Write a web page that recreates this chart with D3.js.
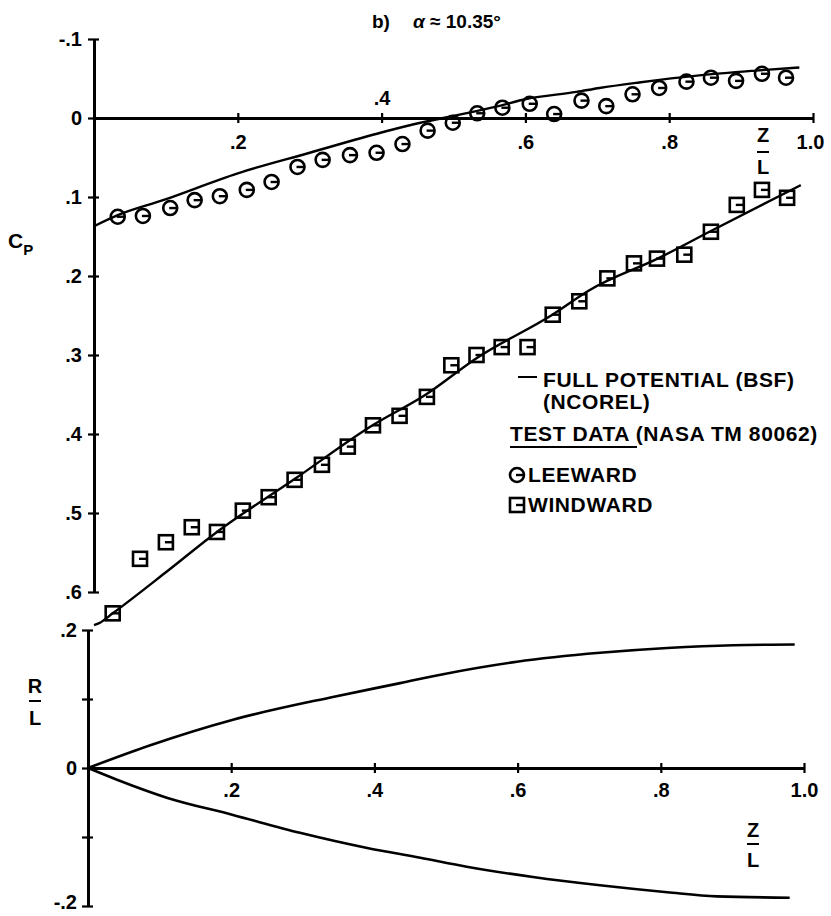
<!DOCTYPE html>
<html>
<head>
<meta charset="utf-8">
<script src="https://cdn.jsdelivr.net/npm/d3@7"></script>
<style>
  body { margin: 0; background: #fff; }
  svg text { font-family: "Liberation Sans", Arial, sans-serif; font-weight: bold; fill: #000; }
</style>
</head>
<body>
<svg id="chart" width="831" height="916"></svg>
<script>
// --- data ---
const zTicks = [0.2, 0.4, 0.6, 0.8, 1.0];
const cpTicks = [-0.1, 0, 0.1, 0.2, 0.3, 0.4, 0.5, 0.6];
const rTicks = [-0.2, -0.1, 0, 0.1, 0.2];
const rLabelTicks = [-0.2, 0, 0.2];

// test data, leeward (Z/L, Cp)
const leewardZ  = [0.033, 0.068, 0.106, 0.140, 0.175, 0.2125, 0.247, 0.283, 0.318, 0.356, 0.393, 0.429, 0.464, 0.499,
                   0.533, 0.568, 0.606, 0.640, 0.678, 0.7125, 0.749, 0.786, 0.824, 0.858, 0.893, 0.929, 0.9625];
const leewardCp = [0.125, 0.124, 0.114, 0.104, 0.099, 0.091, 0.081, 0.062, 0.053, 0.047, 0.044, 0.033, 0.016, 0.006,
                   -0.006, -0.013, -0.018, -0.005, -0.022, -0.015, -0.030, -0.038, -0.046, -0.051, -0.047, -0.056, -0.051];

// test data, windward
const windwardZ  = [0.026, 0.064, 0.100, 0.136, 0.171, 0.207, 0.243, 0.279, 0.317, 0.353, 0.388, 0.425, 0.463, 0.497,
                    0.532, 0.567, 0.603, 0.638, 0.675, 0.714, 0.751, 0.783, 0.821, 0.858, 0.894, 0.929, 0.964];
const windwardCp = [0.627, 0.558, 0.537, 0.518, 0.524, 0.497, 0.480, 0.458, 0.439, 0.416, 0.389, 0.377, 0.353, 0.313,
                    0.300, 0.290, 0.290, 0.249, 0.232, 0.203, 0.184, 0.178, 0.173, 0.144, 0.110, 0.091, 0.101];

// full potential curves
const leeLineZ  = [0, 0.033, 0.096, 0.2, 0.3, 0.401, 0.454, 0.486, 0.5625, 0.601, 0.671, 0.703, 0.758, 0.842, 0.92, 0.981];
const leeLineCp = [0.137, 0.123, 0.104, 0.070, 0.044, 0.018, 0.006, 0.0, -0.015, -0.024, -0.033, -0.038, -0.045, -0.054, -0.060, -0.064];
const windLineZ  = [0, 0.008, 0.026, 0.1, 0.171, 0.279, 0.3875, 0.46, 0.532, 0.6375, 0.689, 0.786, 0.856, 0.983];
const windLineCp = [0.642, 0.639, 0.627, 0.575, 0.524, 0.457, 0.389, 0.351, 0.304, 0.249, 0.218, 0.177, 0.144, 0.085];

// body contour R/L
const upperZ = [0, 0.087, 0.2025, 0.342, 0.436, 0.496, 0.599, 0.715, 0.809, 0.901, 0.987];
const upperR = [0, 0.033, 0.070, 0.103, 0.123, 0.136, 0.154, 0.167, 0.174, 0.178, 0.179];
const lowerZ = [0, 0.0405, 0.110, 0.2025, 0.296, 0.390, 0.464, 0.529, 0.6215, 0.715, 0.809, 0.878, 0.980];
const lowerR = [0, -0.017, -0.043, -0.068, -0.094, -0.116, -0.130, -0.143, -0.158, -0.170, -0.180, -0.186, -0.188];

const zip = (a, b) => a.map((v, i) => [v, b[i]]);
const fmt = d => d === 1 ? "1.0" : d === 0 ? "0" : d.toFixed(1).replace("0.", ".");

const svg = d3.select("#chart");
svg.append("rect").attr("width", 831).attr("height", 916).attr("fill", "#fff");

// scales
const xTop = d3.scaleLinear().domain([0, 1]).range([94, 813]);
const yTop = d3.scaleLinear().domain([-0.1, 0.6]).range([39, 592]);
const xBot = d3.scaleLinear().domain([0, 1]).range([88, 804]);
const yBot = d3.scaleLinear().domain([-0.2, 0.2]).range([906, 630]);

function styleAxis(g) {
    g.selectAll("path.domain").attr("stroke", "#000").attr("stroke-width", 2.8);
    g.selectAll(".tick line").attr("stroke", "#000").attr("stroke-width", 2.2);
    g.selectAll("text").attr("font-size", 20).attr("font-family", null);
}

// top chart: Cp axis (cross ticks = left + right axis)
const cpLeft = svg.append("g").attr("transform", `translate(${xTop(0)},0)`)
    .call(d3.axisLeft(yTop).tickValues(cpTicks).tickFormat(fmt).tickSize(6).tickPadding(6).tickSizeOuter(0));
styleAxis(cpLeft);
const cpRight = svg.append("g").attr("transform", `translate(${xTop(0)},0)`)
    .call(d3.axisRight(yTop).tickValues(cpTicks).tickFormat("").tickSize(5).tickSizeOuter(0));
styleAxis(cpRight);

// top chart: Z/L axis along Cp = 0
const zDown = svg.append("g").attr("transform", `translate(0,${yTop(0)})`)
    .call(d3.axisBottom(xTop).tickValues(zTicks).tickFormat(fmt).tickSize(5).tickPadding(12).tickSizeOuter(0));
styleAxis(zDown);
zDown.selectAll(".tick text").filter(d => d === 0.4).attr("y", -13).attr("dy", 0);
zDown.selectAll(".tick text").filter(d => d === 1).attr("dx", -3);
const zUp = svg.append("g").attr("transform", `translate(0,${yTop(0)})`)
    .call(d3.axisTop(xTop).tickValues(zTicks).tickFormat("").tickSize(5).tickSizeOuter(0));
styleAxis(zUp);

// bottom chart: R/L axis
const rLeft = svg.append("g").attr("transform", `translate(${xBot(0)},0)`)
    .call(d3.axisLeft(yBot).tickValues(rTicks).tickFormat(d => rLabelTicks.includes(d) ? fmt(d) : "")
        .tickSize(6).tickPadding(5).tickSizeOuter(0));
styleAxis(rLeft);
rLeft.selectAll(".tick text").filter(d => d === -0.2).attr("dy", "0.1em");
const rRight = svg.append("g").attr("transform", `translate(${xBot(0)},0)`)
    .call(d3.axisRight(yBot).tickValues(rTicks).tickFormat("").tickSize(5).tickSizeOuter(0));
styleAxis(rRight);

const zbDown = svg.append("g").attr("transform", `translate(0,${yBot(0)})`)
    .call(d3.axisBottom(xBot).tickValues(zTicks).tickFormat(fmt).tickSize(5).tickPadding(10).tickSizeOuter(0));
styleAxis(zbDown);
const zbUp = svg.append("g").attr("transform", `translate(0,${yBot(0)})`)
    .call(d3.axisTop(xBot).tickValues(zTicks).tickFormat("").tickSize(5).tickSizeOuter(0));
styleAxis(zbUp);

// curves
const lineTop = d3.line().x(d => xTop(d[0])).y(d => yTop(d[1])).curve(d3.curveMonotoneX);
const lineBot = d3.line().x(d => xBot(d[0])).y(d => yBot(d[1])).curve(d3.curveMonotoneX);

[zip(leeLineZ, leeLineCp), zip(windLineZ, windLineCp)].forEach(pts => {
    svg.append("path").attr("d", lineTop(pts))
        .attr("fill", "none").attr("stroke", "#000").attr("stroke-width", 2.4);
});
[zip(upperZ, upperR), zip(lowerZ, lowerR)].forEach(pts => {
    svg.append("path").attr("d", lineBot(pts))
        .attr("fill", "none").attr("stroke", "#000").attr("stroke-width", 2.6);
});

// markers
function circleMark(g, x, y) {
    g.append("circle").attr("cx", x).attr("cy", y).attr("r", 7)
        .attr("fill", "none").attr("stroke", "#000").attr("stroke-width", 2.6);
    g.append("line").attr("x1", x - 1).attr("x2", x + 7).attr("y1", y).attr("y2", y)
        .attr("stroke", "#000").attr("stroke-width", 2.4);
}
function squareMark(g, x, y) {
    g.append("rect").attr("x", x - 7).attr("y", y - 7).attr("width", 14).attr("height", 14)
        .attr("fill", "none").attr("stroke", "#000").attr("stroke-width", 2.6);
    g.append("line").attr("x1", x - 1).attr("x2", x + 7).attr("y1", y).attr("y2", y)
        .attr("stroke", "#000").attr("stroke-width", 2.4);
}

const lee = svg.append("g");
zip(leewardZ, leewardCp).forEach(d => circleMark(lee, xTop(d[0]), yTop(d[1])));
const wind = svg.append("g");
zip(windwardZ, windwardCp).forEach(d => squareMark(wind, xTop(d[0]), yTop(d[1])));

// title
const title = svg.append("text").attr("x", 372).attr("y", 28).attr("font-size", 19);
title.append("tspan").text("b)");
title.append("tspan").attr("x", 413).attr("font-style", "italic").text("α");
title.append("tspan").text(" ≈ 10.35°");

// axis titles
const cp = svg.append("text").attr("x", 8).attr("y", 248).attr("font-size", 21);
cp.append("tspan").text("C");
cp.append("tspan").attr("font-size", 15).attr("dy", 7).text("P");

function fraction(x, y1, y2, barY, top, bottom) {
    svg.append("text").attr("x", x).attr("y", y1).attr("font-size", 20).attr("text-anchor", "middle").text(top);
    svg.append("line").attr("x1", x - 6).attr("x2", x + 6).attr("y1", barY).attr("y2", barY)
        .attr("stroke", "#000").attr("stroke-width", 2);
    svg.append("text").attr("x", x).attr("y", y2).attr("font-size", 20).attr("text-anchor", "middle").text(bottom);
}
fraction(763, 142, 174, 152, "Z", "L");
fraction(753, 837, 867, 844, "Z", "L");
fraction(35, 693, 725, 701, "R", "L");

// legend
const lg = svg.append("g");
const legendText = (x, y, s) => lg.append("text").attr("x", x).attr("y", y)
    .attr("font-size", 21).attr("letter-spacing", 0.6).text(s);
lg.append("line").attr("x1", 518).attr("x2", 537).attr("y1", 377).attr("y2", 377)
    .attr("stroke", "#000").attr("stroke-width", 2);
legendText(543, 387, "FULL POTENTIAL (BSF)");
legendText(543, 409, "(NCOREL)");
legendText(510, 441, "TEST DATA (NASA TM 80062)");
lg.append("line").attr("x1", 510).attr("x2", 637).attr("y1", 447).attr("y2", 447)
    .attr("stroke", "#000").attr("stroke-width", 2);
circleMark(lg, 517, 475);
legendText(528, 482, "LEEWARD");
squareMark(lg, 517, 505);
legendText(528, 512, "WINDWARD");
</script>
</body>
</html>
